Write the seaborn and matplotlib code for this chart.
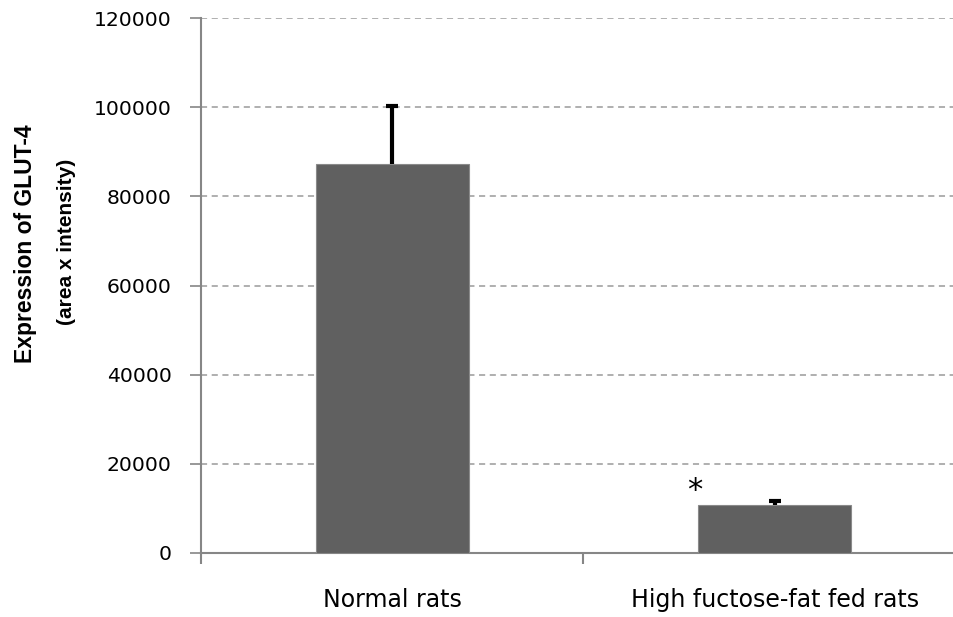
import numpy as np
import pandas as pd
import matplotlib
matplotlib.use("Agg")
import matplotlib.pyplot as plt
import seaborn as sns

groups = ["Normal rats", "High fuctose-fat fed rats"]
glut4 = [87200, 10800]
glut4_err = [13000, 900]
yticks = [0, 20000, 40000, 60000, 80000, 100000, 120000]

df = pd.DataFrame({"group": groups, "glut4": glut4})

sns.set_style("white")
plt.rcParams["font.family"] = ["DejaVu Sans"]
plt.rcParams["text.color"] = "black"
plt.rcParams["xtick.color"] = "black"
plt.rcParams["ytick.color"] = "black"

fig = plt.figure(figsize=(9.54, 6.17), dpi=100)
ax = fig.add_axes([201 / 954, 1 - 553 / 617, 1 - 201 / 954, (553 - 18) / 617])

sns.barplot(data=df, x="group", y="glut4", color="#606060", width=0.4,
            saturation=1, edgecolor="#8a8a8a", linewidth=0.8, ax=ax, zorder=3)

# error bars: upper half only, cap on top
xpos = np.arange(len(groups))
tops = np.array(glut4) + np.array(glut4_err)
ax.vlines(xpos, glut4, tops, color="black", linewidth=3, zorder=4)
ax.hlines(tops, xpos - 0.016, xpos + 0.016, color="black", linewidth=3, zorder=4)

ax.set_yticks(yticks)
ax.set_yticklabels([str(v) for v in yticks], fontsize=14.7)
ax.yaxis.grid(True, linestyle=(0, (4, 3)), color="#9a9a9a", linewidth=1.1, zorder=0)
ax.set_axisbelow(True)

ax.set_xticks(range(len(groups)))
ax.set_xticklabels(groups, fontsize=17)
ax.set_xticks([-0.5, 0.5], minor=True)
ax.tick_params(axis="x", which="major", bottom=True, length=0, pad=25, labelcolor="black")
ax.tick_params(axis="x", which="minor", bottom=True, length=8, color="#868686",
               width=1.5, direction="out")
ax.tick_params(axis="y", left=True, length=8, color="#868686", width=1.2,
               direction="out", pad=13, labelcolor="black")

ax.set_ylim(0, 120000)
ax.set_xlim(-0.5, 1.469)

for s in ["top", "right"]:
    ax.spines[s].set_visible(False)
for s in ["left", "bottom"]:
    ax.spines[s].set_color("#868686")
    ax.spines[s].set_linewidth(1.5)

ax.set_xlabel("")
ax.set_ylabel("")
lab_font = ["Liberation Sans", "DejaVu Sans"]
fig.text(26 / 954, 1 - 244 / 617, "Expression of GLUT-4", rotation=90, fontsize=16.5,
         fontweight="bold", ha="center", va="center", family=lab_font)
fig.text(67 / 954, 1 - 242 / 617, "(area x intensity)", rotation=90, fontsize=15,
         fontweight="bold", ha="center", va="center", family=lab_font)

ax.text(0.79, 14000, "*", fontsize=22, ha="center", va="center")

fig.savefig("out.png", dpi=100)
